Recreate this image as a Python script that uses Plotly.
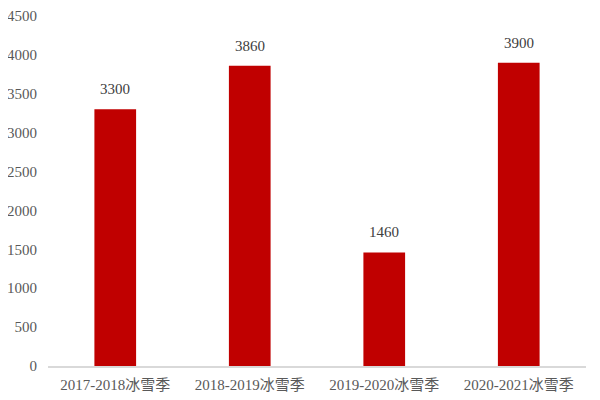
import plotly.graph_objects as go

seasons = ["2017-2018冰雪季", "2018-2019冰雪季", "2019-2020冰雪季", "2020-2021冰雪季"]
visitors = [3300, 3860, 1460, 3900]
y_ticks = [0, 500, 1000, 1500, 2000, 2500, 3000, 3500, 4000, 4500]

font_family = "Liberation Serif, Noto Sans CJK SC"

fig = go.Figure(
    data=[go.Bar(x=seasons, y=visitors, marker_color="#C00000", marker_line_width=0)]
)

# value labels sit a bit above each bar
for s, v in zip(seasons, visitors):
    fig.add_annotation(x=s, y=v, text=str(v), showarrow=False, yshift=20,
                       font=dict(family=font_family, size=15, color="#404040"))

# page body keeps an 8px margin, so the figure is a bit smaller than the window
fig.update_layout(
    width=592, height=392,
    margin=dict(l=40, r=14, t=8, b=34),
    plot_bgcolor="white", paper_bgcolor="white",
    bargap=0.69, showlegend=False,
    font=dict(family=font_family, size=15, color="#595959"),
)
fig.update_xaxes(showline=True, linecolor="#D9D9D9", linewidth=1.5, ticks="",
                 showgrid=False, automargin=False, ticklabelstandoff=4)
fig.update_yaxes(range=[0, 4500], tickvals=y_ticks, showgrid=False, zeroline=False,
                 showline=False, ticks="", ticklabelstandoff=10, automargin=False,
                 ticklabeloverflow="allow")

fig.write_html("out.html")
